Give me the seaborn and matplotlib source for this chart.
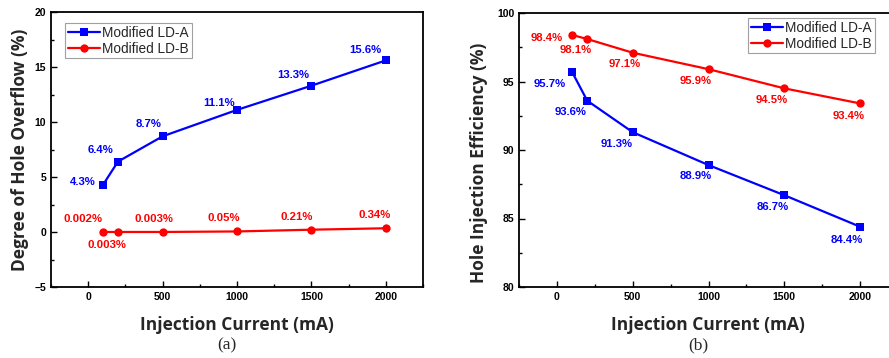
import numpy as np
import pandas as pd
import matplotlib
matplotlib.use("Agg")
import matplotlib.pyplot as plt
from matplotlib.ticker import MultipleLocator
import seaborn as sns

# ---- data ----
current = [100, 200, 500, 1000, 1500, 2000]
overflow_a = [4.3, 6.4, 8.7, 11.1, 13.3, 15.6]
overflow_b = [0.002, 0.003, 0.003, 0.05, 0.21, 0.34]
overflow_a_labels = ["4.3%", "6.4%", "8.7%", "11.1%", "13.3%", "15.6%"]
overflow_b_labels = ["0.002%", "0.003%", "0.003%", "0.05%", "0.21%", "0.34%"]
eff_a = [95.7, 93.6, 91.3, 88.9, 86.7, 84.4]
eff_b = [98.4, 98.1, 97.1, 95.9, 94.5, 93.4]
eff_a_labels = ["95.7%", "93.6%", "91.3%", "88.9%", "86.7%", "84.4%"]
eff_b_labels = ["98.4%", "98.1%", "97.1%", "95.9%", "94.5%", "93.4%"]
series_names = ["Modified LD-A", "Modified LD-B"]

sns.set_style("ticks")
plt.rcParams['font.family'] = ['Liberation Sans', 'DejaVu Sans']

BLUE = "#0000ff"
RED = "#ff0000"

df_a = pd.DataFrame({
    "current": current * 2,
    "value": overflow_a + overflow_b,
    "series": [series_names[0]] * 6 + [series_names[1]] * 6,
})
df_b = pd.DataFrame({
    "current": current * 2,
    "value": eff_a + eff_b,
    "series": [series_names[0]] * 6 + [series_names[1]] * 6,
})

fig = plt.figure(figsize=(8.89, 3.58), dpi=100)
ax1 = fig.add_axes([51/889, 71/358, 372/889, 275/358])
ax2 = fig.add_axes([519/889, 71/358, 379/889, 274/358])

palette = {series_names[0]: BLUE, series_names[1]: RED}
markers = {series_names[0]: "s", series_names[1]: "o"}

for ax, df in [(ax1, df_a), (ax2, df_b)]:
    sns.lineplot(data=df, x="current", y="value", hue="series", style="series",
                 palette=palette, markers=markers, dashes=False, markersize=6,
                 markeredgewidth=0, linewidth=1.6, ax=ax)
    ax.set_xlim(-250, 2250)
    ax.xaxis.set_major_locator(MultipleLocator(500))
    ax.xaxis.set_minor_locator(MultipleLocator(250))
    ax.yaxis.set_major_locator(MultipleLocator(5))
    ax.yaxis.set_minor_locator(MultipleLocator(2.5))
    ax.tick_params(which="both", direction="in", width=1.0, colors="black",
                   labelsize=7.5)
    ax.tick_params(which="major", length=4)
    ax.tick_params(which="minor", length=2.5)
    for sp in ax.spines.values():
        sp.set_linewidth(1.3)
        sp.set_color("black")
    ax.set_xlabel("")
    ax.set_ylabel("")

ax1.set_ylim(-5, 20)
ax2.set_ylim(80, 100)
for lab in ax1.get_xticklabels() + ax1.get_yticklabels() + ax2.get_xticklabels() + ax2.get_yticklabels():
    lab.set_fontweight("bold")

# legends
leg_kw = dict(fontsize=9.8, frameon=True, fancybox=False, edgecolor="#888888",
              handlelength=2.4, borderpad=0.2, labelspacing=0.15,
              handletextpad=0.15, borderaxespad=0)
leg1 = ax1.legend(loc="upper left", bbox_to_anchor=(14/372, 1 - 11/275), **leg_kw)
leg2 = ax2.legend(loc="upper left", bbox_to_anchor=(229/379, 1 - 5/274), **leg_kw)
for leg in (leg1, leg2):
    leg.get_frame().set_linewidth(0.8)

# annotations
ann_kw = dict(textcoords="offset pixels", ha="center", va="center",
              fontsize=8.2, fontweight="bold")
off_oa = [(-20, 3), (-17, 12), (-14, 12), (-18, 7), (-18, 11), (-20, 10)]
off_ob = [(-20, 13), (-11, -13), (-9, 13), (-13, 13), (-15, 13), (-11, 13)]
off_ea = [(-22, -12), (-17, -11), (-16, -12), (-13, -11), (-12, -12), (-13, -13)]
off_eb = [(-25, -3), (-12, -11), (-8, -11), (-13, -12), (-13, -12), (-11, -13)]
for x, y, t, o in zip(current, overflow_a, overflow_a_labels, off_oa):
    ax1.annotate(t, (x, y), xytext=o, color=BLUE, **ann_kw)
for x, y, t, o in zip(current, overflow_b, overflow_b_labels, off_ob):
    ax1.annotate(t, (x, y), xytext=o, color=RED, **ann_kw)
for x, y, t, o in zip(current, eff_a, eff_a_labels, off_ea):
    ax2.annotate(t, (x, y), xytext=o, color=BLUE, **ann_kw)
for x, y, t, o in zip(current, eff_b, eff_b_labels, off_eb):
    ax2.annotate(t, (x, y), xytext=o, color=RED, **ann_kw)

# axis labels
lab_kw = dict(fontsize=12.5, fontweight="bold", family=["Open Sans", "DejaVu Sans"])
fig.text(237/889, 1 - 325/358, "Injection Current (mA)", ha="center", va="center", **lab_kw)
fig.text(708/889, 1 - 325/358, "Injection Current (mA)", ha="center", va="center", **lab_kw)
fig.text(20/889, 1 - 150/358, "Degree of Hole Overflow (%)", ha="center", va="center",
         rotation=90, **lab_kw)
fig.text(479/889, 1 - 163/358, "Hole Injection Efficiency (%)", ha="center", va="center",
         rotation=90, **lab_kw)
fig.text(227/889, 1 - 345/358, "(a)", ha="center", va="center", fontsize=12.5,
         family=["Liberation Serif", "DejaVu Serif"])
fig.text(698/889, 1 - 345/358, "(b)", ha="center", va="center", fontsize=12.5,
         family=["Liberation Serif", "DejaVu Serif"])

fig.savefig("out.png", dpi=100)
